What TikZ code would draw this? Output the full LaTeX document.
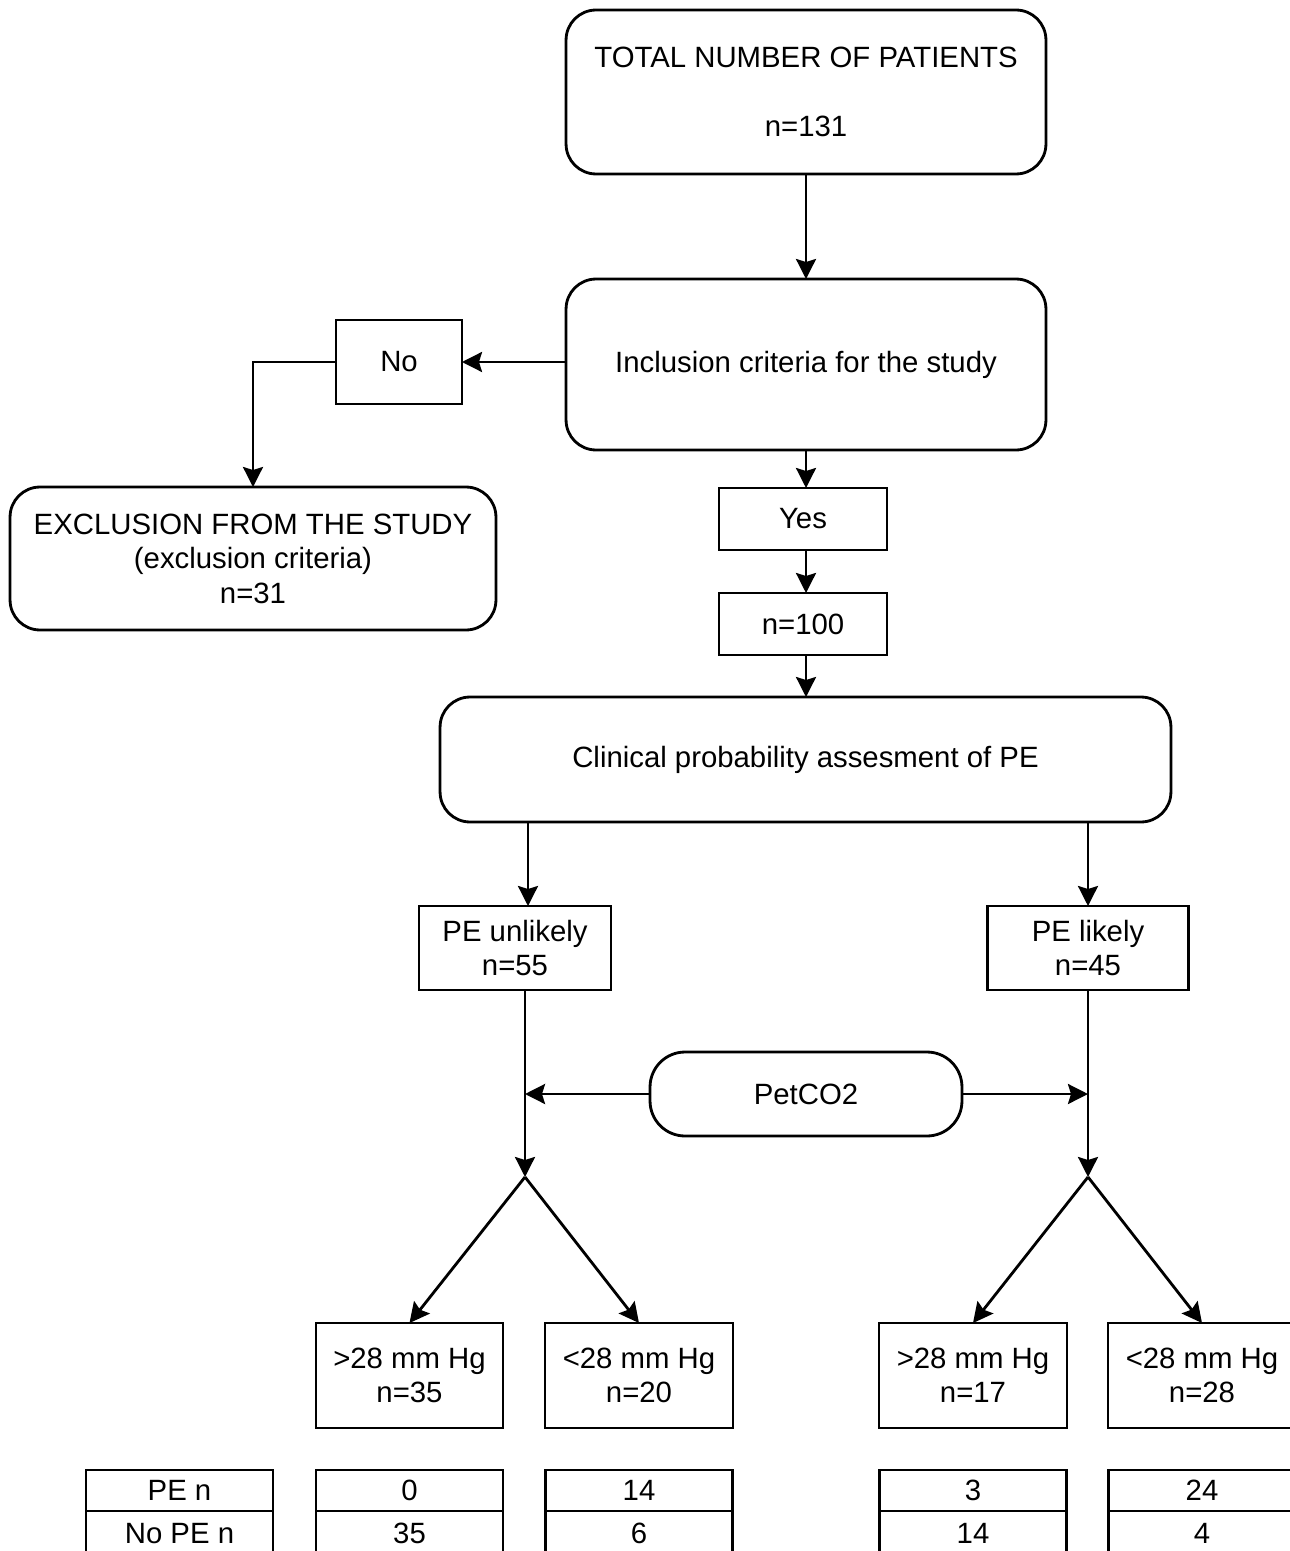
\documentclass[tikz,border=0pt]{standalone}
\usepackage{fontspec}
\setmainfont{Liberation Sans}
\usetikzlibrary{arrows.meta}
\tikzset{
  box/.style={
    draw,
    line width=1.6pt,
    inner sep=0pt,
    outer sep=0pt,
    align=center,
    font=\fontsize{16.7pt}{19.6pt}\selectfont
  },
  roundbox/.style={
    box,
    rounded corners=0.6cm
  },
  cell/.style={
    box,
    minimum width=3.74cm,
    minimum height=0.82cm
  },
  flow/.style={
    line width=1.6pt,
    -{Stealth[length=0.4cm,width=0.4cm,inset=0.06cm]}
  },
}

\begin{document}
\begin{tikzpicture}[x=0.02cm,y=-0.02cm]

  \useasboundingbox (0,0) rectangle (1289,1551);

  % main column
  \node[roundbox, minimum width=9.6cm, minimum height=3.28cm] (total) at (806,92)
    {TOTAL NUMBER OF PATIENTS\\[20pt]n=131};
  \node[roundbox, minimum width=9.6cm, minimum height=3.42cm] (incl) at (806,364.5)
    {Inclusion criteria for the study};
  \node[box, minimum width=2.52cm, minimum height=1.68cm] (no) at (399,362) {No};
  \node[roundbox, minimum width=9.72cm, minimum height=2.86cm] (excl) at (253,558.5)
    {EXCLUSION FROM THE STUDY\\(exclusion criteria)\\n=31};
  \node[box, minimum width=3.36cm, minimum height=1.24cm] (yes) at (803,519) {Yes};
  \node[box, minimum width=3.36cm, minimum height=1.24cm] (hundred) at (803,624) {n=100};
  \node[roundbox, minimum width=14.62cm, minimum height=2.5cm] (clin) at (805.5,759.5)
    {Clinical probability assesment of PE};

  % probability groups
  \node[box, minimum width=3.84cm, minimum height=1.68cm] (unlikely) at (515,948)
    {PE unlikely\\n=55};
  \node[box, minimum width=4.02cm, minimum height=1.68cm] (likely) at (1088,948)
    {PE likely\\n=45};
  \node[roundbox, rounded corners=0.7cm, minimum width=6.24cm, minimum height=1.68cm] (pet) at (806,1094)
    {PetCO2};
  \coordinate (bl) at (525,1177);
  \coordinate (br) at (1088,1177);

  % PetCO2 groups
  \node[box, minimum width=3.74cm, minimum height=2.1cm] (gtone) at (409.5,1375.5)
    {>28 mm Hg\\n=35};
  \node[box, minimum width=3.76cm, minimum height=2.1cm] (ltone) at (639,1375.5)
    {<28 mm Hg\\n=20};
  \node[box, minimum width=3.76cm, minimum height=2.1cm] (gttwo) at (973,1375.5)
    {>28 mm Hg\\n=17};
  \node[box, minimum width=3.76cm, minimum height=2.1cm] (lttwo) at (1202,1375.5)
    {<28 mm Hg\\n=28};

  % tables
  \node[cell] (pen) at (179.5,1490.5) {PE n};
  \node[cell, minimum height=0.9cm] (nopen) at (179.5,1533.5) {No PE n};
  \node[cell] (peone) at (409.5,1490.5) {0};
  \node[cell, minimum height=0.9cm] (nopeone) at (409.5,1533.5) {35};
  \node[cell] (petwo) at (639,1490.5) {14};
  \node[cell, minimum height=0.9cm] (nopetwo) at (639,1533.5) {6};
  \node[cell] (pethree) at (973,1490.5) {3};
  \node[cell, minimum height=0.9cm] (nopethree) at (973,1533.5) {14};
  \node[cell] (pefour) at (1202,1490.5) {24};
  \node[cell, minimum height=0.9cm] (nopefour) at (1202,1533.5) {4};

  % connectors
  \draw[flow] (total.south) -- (incl.north);
  \draw[flow] (incl.west |- no.east) -- (no.east);
  \draw[flow] (no.west) -| (excl.north);
  \draw[flow] (incl.south) -- (incl.south |- yes.north);
  \draw[flow] (incl.south |- yes.south) -- (incl.south |- hundred.north);
  \draw[flow] (incl.south |- hundred.south) -- (incl.south |- clin.north);
  \draw[flow] ([xshift=0.26cm]unlikely.north |- clin.south) -- ([xshift=0.26cm]unlikely.north);
  \draw[flow] (likely.north |- clin.south) -- (likely.north);
  \draw[flow] (bl |- unlikely.south) -- (bl);
  \draw[flow] (likely.south) -- (br);
  \draw[flow] (pet.west) -- (pet.west -| bl);
  \draw[flow] (pet.east) -- (pet.east -| br);
  \draw[flow] (bl) -- (gtone.north);
  \draw[flow] (bl) -- (ltone.north);
  \draw[flow] (br) -- (gttwo.north);
  \draw[flow] (br) -- (lttwo.north);

\end{tikzpicture}
\end{document}
